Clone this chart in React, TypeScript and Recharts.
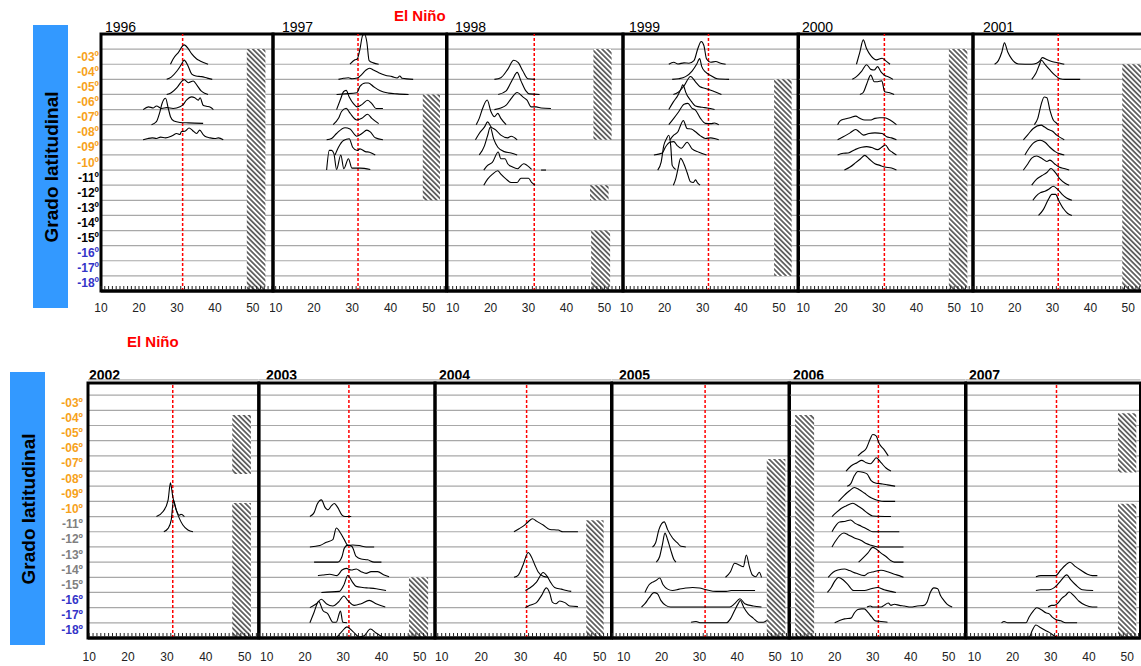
import React from "react";
import {
  LineChart,
  Line,
  XAxis,
  YAxis,
  CartesianGrid,
  ReferenceLine,
  ReferenceArea,
} from "recharts";

type Curve = { lat: number; pts: number[][] };

// talla mínima (línea roja discontinua)
const minSize = 31.5;

// curvas por año: lat = grado latitudinal, pts = [talla, altura relativa]
const c1996: Curve[] = [
  { lat: 3, pts: [[28.3,0],[29,0.35],[30.4,0.79],[31.9,1.28],[33,1.02],[33.9,0.68],[35.2,0.35],[36.1,0.22],[38.2,0]] },
  { lat: 4, pts: [[27.3,0],[28.5,0.15],[30,0.55],[31.2,1.0],[31.9,1.27],[32.8,0.95],[33.9,0.35],[35,0.22],[36.5,0.18],[38,0.08],[39.3,0]] },
  { lat: 5, pts: [[27.3,0],[28.5,0.12],[30,0.45],[31.2,0.85],[31.9,0.98],[33,0.78],[34.3,0.89],[35.3,0.6],[36.3,0.25],[37.3,0.08],[38.2,0]] },
  { lat: 6, pts: [[21.1,0],[22.5,0.18],[23.8,0.11],[24.6,0.24],[26,0.07],[27.3,0.13],[29,0.07],[30.8,0.18],[31.5,0.29],[32.5,0.62],[33.9,0.84],[34.7,0.78],[35.6,0.62],[36.1,0.78],[36.9,0.29],[37.8,0.22],[38.8,0.15],[39.6,0]] },
  { lat: 7, pts: [[23.3,0],[24.6,0.2],[25.4,0.75],[26.1,1.42],[27,1.75],[27.7,1.1],[28.3,0.53],[29.2,0.24],[30.8,0.15],[33,0.12],[36.9,0.09]] },
  { lat: 8, pts: [[21.1,0],[22.4,0.09],[23.5,0.13],[24.6,0.09],[25.7,0.18],[27,0.13],[28.3,0.22],[29,0.31],[29.9,0.42],[30.8,0.35],[31.2,0.55],[32.1,0.57],[33.2,0.78],[34.1,0.62],[35.2,0.42],[36,0.64],[36.9,0.35],[37.8,0.18],[38.7,0.13],[40,0.09],[40.9,0.13],[42.2,0]] },
];

const c1997: Curve[] = [
  { lat: 3, pts: [[29.4,0],[30.7,0.29],[31.3,0.35],[32,1.0],[32.7,1.9],[33.2,1.98],[33.8,1.47],[34.4,0.24],[35.5,0.09],[36.9,0]] },
  { lat: 4, pts: [[26.4,0],[27.7,0.07],[29,0.11],[29.9,0.04],[31.3,0.09],[32.5,0.33],[33.6,0.62],[34.5,0.73],[35.5,0.62],[36.9,0.44],[38.6,0.27],[40.4,0.18],[41.7,0.09],[42.4,0.22],[43,0.07],[45.9,0]] },
  { lat: 5, pts: [[25.9,0],[28.1,0.04],[31.2,0.11],[32,0.53],[33.4,0.76],[34.2,0.76],[35.5,0.53],[37.3,0.24],[39.5,0.09],[41.7,0.04],[44.7,0]] },
  { lat: 6, pts: [[25.9,0],[27,0.73],[27.7,1.18],[28.4,1.27],[29.2,0.84],[30.3,0.4],[31.3,0.18],[32.5,0.33],[34,0.62],[35.1,0.4],[36.2,0.07],[38,0.07]] },
  { lat: 7, pts: [[25,0],[26.4,0.42],[27.2,0.87],[28.4,1.09],[29.4,0.76],[31.2,0.31],[32.5,0.42],[34,0.69],[35.1,0.42],[36.9,0.07]] },
  { lat: 8, pts: [[23.3,0],[24.6,0.09],[25.9,0.42],[28.1,0.8],[29.4,0.71],[31.2,0.24],[32.5,0.42],[33.8,0.64],[34.7,0.53],[36,0.13],[38,0]] },
  { lat: 9, pts: [[25.5,0],[26.4,0.51],[27.7,0.96],[29.2,1.07],[30.1,0.51],[31.3,0.29],[32,0.4],[33.4,0.22],[34.5,0.18],[36,0]] },
  { lat: 10, pts: [[23.3,0],[24,1.3],[24.6,1.3],[25.2,1.09],[25.9,0.04],[27,1.0],[27.8,0.09],[29,0.75],[29.9,0.13],[30.7,0.13],[32,0.13],[34.7,0.04]] },
];

const c1998: Curve[] = [
  { lat: 4, pts: [[21,0],[22.7,0.11],[24.5,0.66],[26.1,1.26],[27.3,1.1],[28.5,0.55],[29.8,0.04],[31.7,0]] },
  { lat: 5, pts: [[22,0],[24.1,0.24],[25.8,1.01],[27,1.46],[28,0.9],[29.3,0.24],[30.2,0.04],[32.9,0]] },
  { lat: 6, pts: [[21,0],[22.7,0.11],[24.1,0.29],[25.4,0.73],[27,1.13],[28.5,0.84],[29.6,0.62],[30.7,0.18],[32,0.18],[33.3,0.11],[35.9,0.07]] },
  { lat: 7, pts: [[16.2,0],[17,0.42],[17.9,1.09],[19.1,1.63],[20.1,0.86],[21,0.53],[21.9,0.75],[22.7,0.42],[24.1,0]] },
  { lat: 8, pts: [[16,0],[17,0.42],[18.4,0.86],[19.2,1.19],[20.1,0.86],[21.4,0.64],[22.7,0.31],[24.5,0.13],[25.4,0.24],[27,0]] },
  { lat: 9, pts: [[17,0],[18.4,0.62],[19.2,1.28],[19.9,1.83],[20.8,1.06],[21.9,0.51],[23.6,0.22],[25.4,0.13],[27,0]] },
  { lat: 10, pts: [[18.2,0],[19.2,0.31],[20.5,0.53],[22,1.19],[22.7,0.75],[23.8,0.75],[24.5,0.42],[25.8,0.2],[27.1,0.09],[28.7,0.42],[29.6,0.31],[30.8,0.04]] },
  { lat: 10, pts: [[33.3,0],[34.6,0]] },
  { lat: 11, pts: [[18.2,0],[19.2,0.4],[20.5,0.73],[21.9,0.95],[22.7,0.73],[24.1,0.4],[25.4,0.18],[27,0.18],[28,0.46],[30,0.46],[30.8,0.18],[31.7,0]] },
];

const c1999: Curve[] = [
  { lat: 3, pts: [[21.1,0],[22.4,0.13],[23.5,0.02],[25.1,0.09],[26.4,0.07],[27.7,0.24],[28.7,1.02],[29.6,1.5],[30.3,1.24],[31,0.35],[32.1,0.13],[33.4,0.18],[34.7,0.07],[36,0]] },
  { lat: 4, pts: [[22,0],[23.7,0.04],[25.5,0.18],[27.2,0.55],[28.4,1.0],[29.2,1.37],[29.7,0.88],[30.7,0.49],[32.1,0.26],[33.8,0.04],[36.9,0]] },
  { lat: 5, pts: [[22.3,0],[23.5,0.13],[25.1,0.57],[26.8,1.19],[28.1,0.84],[29.3,0.51],[30.7,0.4],[32.5,0.24],[34.9,0]] },
  { lat: 6, pts: [[21.1,0],[22.3,0.51],[23.5,0.95],[24.5,1.5],[24.7,1.64],[25.1,1.5],[25.5,1.17],[26.8,0.62],[28.1,0.24],[29.9,0.15],[31.2,0.11],[33.1,0]] },
  { lat: 7, pts: [[21.1,0],[22.4,0.42],[23.7,0.86],[25.1,1.35],[26.1,1.41],[27.2,1.08],[28.1,0.97],[29.4,0.42],[30.7,0.09],[32.1,0.07],[33.1,0.11],[34.2,0]] },
  { lat: 8, pts: [[21.4,0],[22.4,0.31],[23.5,0.53],[24.2,0.97],[24.9,1.28],[25.9,0.75],[27,0.71],[28.1,0.53],[29.4,0.26],[30.7,0.09],[32.1,0.13],[33.1,0.09],[34.2,0]] },
  { lat: 9, pts: [[17.2,0],[19.4,0.13],[20.2,0.51],[21.4,0.84],[22.4,0.88],[23.3,0.62],[24.4,0.44],[25.9,0.84],[27.2,0.4],[29,0.18],[31,0]] },
  { lat: 10, pts: [[18.2,0],[19.1,0.53],[19.8,1.63],[20.5,2.07],[21.1,2.3],[21.6,1.63],[22,0.31],[22.9,0.04]] },
  { lat: 11, pts: [[22.3,0],[22.9,0.4],[23.5,1.06],[24.2,1.77],[25.1,1.39],[25.9,0.84],[26.8,0.22],[27.5,0.18],[28.1,0.35],[28.7,0.13],[29.3,0]] },
];

const c2000: Curve[] = [
  { lat: 3, pts: [[24.1,0],[25,0.8],[25.9,1.61],[26.8,1.02],[27.9,0.57],[29.4,0.29],[30.9,0.4],[31.8,0.24],[33,0]] },
  { lat: 4, pts: [[23,0],[24.1,0.18],[25.5,0.55],[26.8,0.97],[27.9,0.66],[28.8,0.62],[29.7,0.84],[30.6,0.49],[31.6,0.26],[32.5,0.18],[33.8,0]] },
  { lat: 5, pts: [[25,0],[25.9,0.13],[26.8,0.68],[27.9,1.28],[28.8,0.84],[29.7,0.84],[30.8,0.9],[31.6,0.18],[32.7,0.13],[34.1,0]] },
  { lat: 7, pts: [[19.1,0],[19.7,0.24],[21,0.38],[22.4,0.46],[23.9,0.57],[25,0.42],[26.3,0.31],[27.7,0.31],[29,0.42],[30.3,0.46],[31.6,0.46],[33,0.31],[34.7,0]] },
  { lat: 8, pts: [[19.1,0],[20.6,0.2],[22.4,0.46],[23.9,0.68],[25,0.49],[26,0.31],[27.4,0.42],[29,0.46],[30.9,0.42],[32.1,0.2],[33.4,0.13],[34.7,0]] },
  { lat: 9, pts: [[19.1,0],[20.6,0.11],[21.9,0.13],[23.7,0.35],[25.5,0.51],[26.8,0.55],[28.1,0.49],[29.7,0.35],[30.8,0.51],[31.8,0.66],[32.7,0.35],[33.6,0.18],[34.7,0]] },
  { lat: 10, pts: [[20.9,0],[22.4,0.2],[23.9,0.49],[25.2,0.75],[26.3,0.97],[27.4,0.75],[29,0.42],[30.3,0.31],[31.6,0.2],[33.4,0.13],[34.7,0]] },
];

const c2001: Curve[] = [
  { lat: 3, pts: [[14.7,0],[15.7,0.24],[16.6,0.79],[17.3,1.41],[18.2,0.79],[19.2,0.35],[21,0.02],[24.5,0],[25.8,0.07],[26.7,0.24],[27.3,0.44],[28.5,0.31],[29.6,0.2],[30.7,0.13],[32,0.07],[33.1,0]] },
  { lat: 4, pts: [[24.5,0],[25.6,0.4],[26.4,0.88],[27.1,1.26],[28,0.99],[29.3,0.62],[30.7,0.26],[32,0.04],[33.3,0],[37.3,0]] },
  { lat: 7, pts: [[25.2,0],[26.1,0.42],[27,1.35],[27.8,1.83],[28.5,1.79],[29.3,0.97],[30.2,0.31],[31.1,0.09],[31.4,0]] },
  { lat: 8, pts: [[22.3,0],[23.5,0.35],[24.9,0.75],[27,0.97],[27.8,0.86],[28.9,0.68],[30,0.57],[31.1,0.31],[32.2,0.13],[33.1,0]] },
  { lat: 9, pts: [[22.7,0],[23.8,0.44],[25.2,0.84],[26.7,0.97],[28,0.84],[29.3,0.51],[30.7,0.22],[32,0.07],[33.1,0]] },
  { lat: 10, pts: [[22.3,0],[23.5,0.42],[24.5,0.79],[25.8,0.93],[27.3,0.75],[28.5,0.57],[29.3,0.66],[30.5,0.42],[31.7,0.2],[33.3,0.09],[34.4,0]] },
  { lat: 11, pts: [[24.5,0],[25.8,0.4],[27.1,0.62],[28.5,0.84],[29.6,1.1],[30.7,0.84],[32,0.4],[33.3,0.13],[34.4,0]] },
  { lat: 12, pts: [[24.8,0],[25.6,0.26],[26.7,0.49],[28,0.6],[29.1,0.75],[30.2,0.93],[31.4,0.71],[32.6,0.38],[33.7,0.15],[35.1,0]] },
  { lat: 13, pts: [[26.3,0],[27.6,0.4],[28.9,1.06],[29.8,1.39],[30.8,1.39],[31.7,0.95],[32.9,0.44],[34,0.13],[35.1,0]] },
];

const c2002: Curve[] = [
  { lat: 10, pts: [[27.3,0],[29,0.33],[30.3,1.09],[30.9,2.23],[31.5,1.31],[32.4,0.44],[33.2,0.09],[33.6,0.15],[34.5,0]] },
  { lat: 11, pts: [[29.2,0],[30.3,0.22],[31.1,0.77],[31.7,2.08],[32.4,1.42],[33.2,0.88],[34.1,0.44],[35.4,0.11],[36.7,0]] },
];

const c2003: Curve[] = [
  { lat: 10, pts: [[21.3,0],[22.4,0.26],[23.2,0.81],[24.3,1.1],[25.3,0.59],[26,0.44],[26.9,0.7],[27.7,0.86],[28.6,0.59],[29.7,0.09],[30.5,0],[32.1,0]] },
  { lat: 12, pts: [[21.3,0],[23.9,0.09],[25.6,0.31],[27.3,0.48],[28.2,1.25],[29.3,0.92],[30.3,0.48],[31.3,0.09],[32.5,0.13],[34.2,0.09],[36,0],[38.1,0]] },
  { lat: 13, pts: [[22.4,0],[28.6,0],[29.7,0.37],[30.3,0.92],[31.2,1.12],[32.3,1.03],[33.4,0.37],[34.7,0.2],[36.4,0.15],[38.1,0],[40,0]] },
  { lat: 14, pts: [[23.4,0.11],[24.7,0.15],[26.5,0.2],[28.4,0.11],[29.7,0.48],[30.8,0.59],[32.1,0.48],[33.4,0.55],[34.7,0.37],[36,0.26],[37.3,0.37],[39,0.37],[40.7,0.15],[42,0.04]] },
  { lat: 15, pts: [[24.3,0],[29,0.07],[30.2,0.5],[31.2,1.12],[32.3,0.73],[33.4,0.4],[35.1,0.33],[36.8,0.29],[38.6,0.24],[41.2,0.13]] },
  { lat: 16, pts: [[21.3,0],[23,0.26],[24.3,0.55],[25.6,0.26],[27.3,0.11],[28.8,0.37],[30.2,0.77],[31.2,0.48],[32.9,0.15],[34.7,0.26],[36.8,0.48],[38.6,0.26],[41,0.04]] },
  { lat: 17, pts: [[21.3,0],[22.4,0.7],[23.6,1.41],[24.7,0.81],[26,0.59],[27.3,0.04],[28.2,0.04],[29.3,0.77],[29.9,0.04],[31,0]] },
  { lat: 18, pts: [[28.2,0],[29.7,0.44],[31,0.73],[32.5,0.44],[34.2,0.07],[35.5,0.15],[37.1,0.59],[38.6,0.33],[40.3,0.07]] },
];

const c2004: Curve[] = [
  { lat: 11, pts: [[28.3,0],[29.6,0.2],[31,0.44],[31.9,0.66],[33,0.86],[34,0.7],[35.7,0.44],[37.4,0.15],[39.5,0.11],[40.7,0],[44.5,0]] },
  { lat: 14, pts: [[28.3,0],[29.4,0.15],[30.6,0.81],[31.9,1.63],[32.7,1.36],[33.6,0.81],[34.4,0.37],[35.7,0.07],[37,0]] },
  { lat: 15, pts: [[31.2,0.13],[32.3,0.29],[34,0.68],[35.7,1.32],[36.7,1.06],[37.5,0.7],[38.6,0.33],[40.3,0.22],[41.6,0.13],[42.8,0.07]] },
  { lat: 16, pts: [[31.2,0],[32.3,0.15],[34,0.33],[35.3,0.81],[36.5,1.3],[37.4,0.92],[38,0.37],[38.9,0.26],[39.9,0.44],[41.2,0.33],[42.4,0.11],[44.5,0.07]] },
];

const c2005: Curve[] = [
  { lat: 12, pts: [[17.6,0],[18.4,0.26],[19.3,1.14],[20.7,1.65],[21.6,1.14],[22.9,0.59],[24.2,0.26],[25.1,0.04],[26.4,0]] },
  { lat: 13, pts: [[18.6,0],[19.5,0.37],[20.2,1.14],[20.9,1.91],[21.6,1.47],[22.4,0.81],[23.3,0.15],[23.8,0]] },
  { lat: 14, pts: [[36.9,0],[38.2,0.37],[39.3,0.92],[40.5,0.81],[41.6,0.7],[42.4,1.47],[43.2,0.7],[44,0.15],[44.9,0.04],[45.8,0.33],[46.4,0]] },
  { lat: 15, pts: [[15.6,0],[16.7,0.51],[17.6,0.68],[18.4,0.77],[19.5,0.95],[20.4,0.51],[21.6,0.22],[22.9,0.13],[24.7,0.22],[26.4,0.29],[28.2,0.33],[30,0.29],[31.8,0.18],[34.4,0.07],[37.1,0.07],[38.4,0.13],[44.7,0.13]] },
  { lat: 16, pts: [[14.7,0.04],[15.6,0.26],[16.7,0.64],[18,0.99],[18.9,0.92],[19.8,0.48],[21.1,0.15],[22.4,0.04],[38,0.04],[39.3,0.26],[40.7,0.59],[42,0.26],[44.2,0.11],[46.4,0.04]] },
  { lat: 17, pts: [[27.8,0.04],[29.1,0.09],[30.4,0],[37.1,0],[38.2,0.26],[39.3,0.81],[40.2,1.25],[40.8,1.47],[41.7,1.03],[42.9,0.59],[44.2,0.31],[45.6,0.04],[46.9,0.04],[47.8,0.15]] },
];

const c2006: Curve[] = [
  { lat: 6, pts: [[26.1,0],[27.1,0.22],[28.3,0.48],[29.4,1.14],[30,1.41],[30.9,1.32],[31.7,0.81],[32.9,0.44],[34.1,0]] },
  { lat: 7, pts: [[23,0],[24.3,0.33],[25.9,0.55],[27.1,0.7],[28.3,0.55],[29.4,0.48],[30.3,0.7],[30.9,0.88],[32.2,0.55],[33.5,0.2],[34.8,0]] },
  { lat: 8, pts: [[23.3,0],[24.2,0.15],[25.2,0.7],[26.1,0.97],[27.4,0.92],[28.5,0.81],[29.6,0.37],[30.9,0.2],[32.6,0.15],[33.9,0.09],[35.9,0]] },
  { lat: 9, pts: [[21,0],[22.4,0.37],[23.9,0.7],[25.2,0.92],[26.5,0.77],[27.8,0.55],[29.1,0.31],[30.3,0.15],[31.7,0.04],[33,0],[35.9,0]] },
  { lat: 10, pts: [[19.3,0],[20.4,0.26],[21.7,0.53],[23,0.7],[24.8,0.88],[26.1,0.7],[27.4,0.48],[28.7,0.22],[30,0.04],[34.8,0]] },
  { lat: 11, pts: [[19.3,0],[20.2,0.37],[21.3,0.64],[22.6,0.68],[24.2,0.77],[25.4,0.55],[27,0.37],[28.7,0.15],[30,0],[37,0]] },
  { lat: 12, pts: [[19.3,0],[20.2,0.37],[21.3,0.75],[22.4,0.92],[23.5,0.81],[25.2,0.59],[27,0.42],[28.3,0.22],[29.6,0.11],[31.3,0],[38.1,0]] },
  { lat: 13, pts: [[26.3,0],[27.4,0.26],[28.7,0.59],[30,0.97],[30.9,0.86],[32.2,0.59],[33.5,0.37],[34.8,0.09],[35.7,0],[38.1,0]] },
  { lat: 14, pts: [[18.3,0],[19.6,0.33],[20.9,0.48],[22.6,0.55],[23.9,0.44],[25.7,0.26],[27.8,0.11],[28.7,0.26],[30.3,0.37],[32.2,0.46],[33.9,0.37],[35.7,0.2],[37,0.11],[38.1,0]] },
  { lat: 15, pts: [[18.1,0],[19.1,0.33],[20,0.73],[21,0.99],[22.2,0.84],[23.5,0.51],[25,0.13],[27.8,0.13],[29.6,0.24],[31.3,0.33],[33,0.18],[34.8,0.07],[36.1,0]] },
  { lat: 16, pts: [[28.5,0.04],[29.4,0.11],[30,0.04],[32.2,0.04],[33,0.15],[34.1,0.31],[34.8,0.15],[35.7,0.22],[37,0.15],[38.3,0.11],[40,0.04],[41.7,0.11],[43.5,0.15],[44.3,0.37],[45.2,1.03],[46.1,1.3],[47.1,1.25],[47.8,0.81],[48.7,0.48],[49.6,0.22],[50.9,0.04]] },
  { lat: 17, pts: [[20,0],[21.3,0.15],[22.6,0.26],[24.3,0.31],[25.2,0.66],[26.1,0.88],[27.1,0.92],[27.8,0.92],[28.7,0.7],[29.8,0.37],[30.7,0.13],[32.2,0.09],[33.9,0.04]] },
];

const c2007: Curve[] = [
  { lat: 14, pts: [[26.1,0.04],[27.4,0.11],[31.3,0.11],[32.6,0.48],[33.9,0.81],[35,0.99],[36.5,0.7],[37.8,0.48],[39.6,0.2],[40.9,0.11],[42.2,0.11]] },
  { lat: 15, pts: [[26.1,0.13],[27.4,0.18],[29.6,0.18],[31.3,0.4],[32.6,0.77],[34.2,1.16],[35.2,0.84],[36.5,0.51],[38.3,0.18],[41.1,0.13]] },
  { lat: 16, pts: [[29.3,0.04],[30.2,0.15],[30.9,0.15],[31.7,0.26],[33,0.64],[33.9,0.81],[34.8,1.03],[36.1,0.77],[37.4,0.42],[39.1,0.15],[40.9,0.04],[42.2,0.04]] },
  { lat: 17, pts: [[17.1,0],[17.8,0.09],[18.7,0],[23.5,0],[24.3,0.37],[25.5,0.81],[26.3,0.99],[27.4,0.88],[28.7,0.66],[29.6,0.59],[30.4,0.37],[31.3,0.22],[32.6,0.13],[33.9,0],[36.9,0]] },
  { lat: 18, pts: [[20.9,0.04],[24.3,0.04],[25.2,0.53],[26.1,0.86],[27.2,0.7],[28.4,0.53],[29.6,0.37],[30.9,0.15],[31.9,0]] },
];

// zonas rayadas: [talla desde, talla hasta, y desde, y hasta]
const h1996 = [[48.4, 53.3, 0, 16]];
const h1997 = [[48.4, 52.9, 6, 13]];
const h1998 = [[47.1, 51.9, 10, 16], [46.2, 51.1, 6, 7], [46.5, 51.5, 0, 4]];
const h1999 = [[48.7, 53.3, 1, 14]];
const h2000 = [[48.6, 53.5, 0, 16]];
const h2001 = [[48.4, 55.2, 0, 15]];
const h2002 = [[46.8, 51.6, 10.8, 14.7], [46.8, 51.6, 0, 8.9]];
const h2003 = [[47.2, 52.2, 0, 4]];
const h2004 = [[46.6, 51, 0, 7.75]];
const h2005 = [[47.8, 52.7, 0, 11.8]];
const h2006 = [[9.6, 14.6, 0, 14.7]];
const h2007 = [[47.6, 52.4, 10.9, 14.8], [47.6, 52.4, 0, 8.85]];

const topPanels = [
  { year: "1996", curves: c1996, hatch: h1996, left: 101, right: 273, x0: 10, x1: 55.3, titleX: 105 },
  { year: "1997", curves: c1997, hatch: h1997, left: 273, right: 446.5, x0: 9.3, x1: 54.6, titleX: 282 },
  { year: "1998", curves: c1998, hatch: h1998, left: 446.5, right: 622.5, x0: 8.5, x1: 54.9, titleX: 455 },
  { year: "1999", curves: c1999, hatch: h1999, left: 622.5, right: 798, x0: 9.1, x1: 55.1, titleX: 629 },
  { year: "2000", curves: c2000, hatch: h2000, left: 798, right: 973, x0: 8.6, x1: 55, titleX: 802 },
  { year: "2001", curves: c2001, hatch: h2001, left: 973, right: 1148, x0: 9.0, x1: 55.2, titleX: 983 },
];

const bottomPanels = [
  { year: "2002", curves: c2002, hatch: h2002, left: 88.3, right: 259, x0: 9.7, x1: 53.6, titleX: 89 },
  { year: "2003", curves: c2003, hatch: h2003, left: 259, right: 435, x0: 8, x1: 54, titleX: 266 },
  { year: "2004", curves: c2004, hatch: h2004, left: 435, right: 611.5, x0: 8.3, x1: 53, titleX: 439 },
  { year: "2005", curves: c2005, hatch: h2005, left: 611.5, right: 789, x0: 6.9, x1: 53.8, titleX: 619 },
  { year: "2006", curves: c2006, hatch: h2006, left: 789, right: 965.5, x0: 8, x1: 54.4, titleX: 793 },
  { year: "2007", curves: c2007, hatch: h2007, left: 965.5, right: 1140, x0: 7.8, x1: 53.5, titleX: 969 },
];

const topRow = { top: 34, bottom: 291, yTop: 17, pad: 3, labelDy: 21, labelGap: 2, mid: "#000000", topLine: false };
const bottomRow = { top: 383.3, bottom: 638.3, yTop: 16.8, pad: 5, labelDy: 23, labelGap: 5, mid: "#808080", topLine: true };

const yTicks = Array.from({ length: 17 }, (_, k) => k);

function latColor(lat: number, mid: string) {
  if (lat <= 10) return "#F7A21B";
  if (lat <= 15) return mid;
  return "#3434C8";
}

function makeXTick(labelDy: number) {
  return (props: any) => {
    const { x, y, payload } = props;
    const v = payload.value;
    return (
      <g>
        <line x1={x} x2={x} y1={y - 1.5} y2={y - 5} stroke="#222" strokeWidth={1} />
        {v % 10 === 0 ? (
          <text x={x} y={y + labelDy} textAnchor="middle" fontSize={12} fill="#222">
            {v}
          </text>
        ) : null}
      </g>
    );
  };
}

function makeYTick(band: number, gap: number, mid: string, show: boolean) {
  return (props: any) => {
    const { x, y, payload } = props;
    const k = payload.value;
    if (!show || k > 15) return <g />;
    const lat = 18 - k;
    return (
      <text x={x - gap} y={y - band / 2 + 4} textAnchor="end" fontSize={12} fontWeight="bold" fill={latColor(lat, mid)}>
        {`-${String(lat).padStart(2, "0")}º`}
      </text>
    );
  };
}

function Panel({ p, row, first }: { p: any; row: any; first: boolean }) {
  const yw = first ? 44 : 0;
  const plotW = p.right - p.left;
  const plotH = row.bottom - row.top;
  const band = plotH / row.yTop;
  const xTicks: number[] = [];
  for (let v = Math.ceil(p.x0); v <= Math.floor(p.x1); v++) xTicks.push(v);
  const pid = `hatch${p.year}`;
  return (
    <div style={{ position: "absolute", left: p.left - yw - 3, top: row.top - row.pad }}>
      <LineChart
        width={plotW + yw + 6}
        height={plotH + row.pad + 34}
        margin={{ top: row.pad, right: 3, bottom: 0, left: 3 }}
      >
        <defs>
          <pattern id={pid} width={3.6} height={3.6} patternUnits="userSpaceOnUse" patternTransform="rotate(-45)">
            <rect width={3.6} height={3.6} fill="#fff" />
            <line x1={1.8} y1={0} x2={1.8} y2={3.6} stroke="#333" strokeWidth={1.4} />
          </pattern>
        </defs>
        <CartesianGrid vertical={false} stroke="#a8a8a8" strokeWidth={1.2} />
        <XAxis
          type="number"
          dataKey="x"
          domain={[p.x0, p.x1]}
          allowDataOverflow
          ticks={xTicks}
          interval={0}
          tickLine={false}
          tickSize={0}
          tickMargin={0}
          axisLine={{ stroke: "#000", strokeWidth: 3 }}
          height={34}
          tick={makeXTick(row.labelDy)}
        />
        <YAxis
          type="number"
          domain={[0, row.yTop]}
          allowDataOverflow
          ticks={yTicks}
          interval={0}
          width={yw}
          tickLine={false}
          axisLine={false}
          tickSize={0}
          tickMargin={0}
          tick={makeYTick(band, row.labelGap, row.mid, first)}
        />
        {row.topLine ? <ReferenceLine y={17} stroke="#b5b5b5" strokeWidth={1.2} ifOverflow="visible" /> : null}
        {p.hatch.map((h: number[], i: number) => (
          <ReferenceArea key={`h${i}`} x1={h[0]} x2={h[1]} y1={h[2]} y2={h[3]} fill={`url(#${pid})`} fillOpacity={1} stroke="none" />
        ))}
        <ReferenceLine x={minSize} stroke="#ff0000" strokeDasharray="3 2" strokeWidth={1.5} />
        {p.curves.map((c: Curve, i: number) => (
          <Line
            key={`c${i}`}
            data={c.pts.map(([x, h]) => ({ x, y: 18 - c.lat + h }))}
            dataKey="y"
            type="monotone"
            stroke="#000"
            strokeWidth={1.1}
            dot={false}
            activeDot={false}
            isAnimationActive={false}
          />
        ))}
        <ReferenceArea x1={p.x0} x2={p.x1} y1={0} y2={row.yTop} fill="none" stroke="#000" strokeWidth={3} />
      </LineChart>
    </div>
  );
}

export default function App() {
  return (
    <div
      style={{
        position: "absolute",
        left: 0,
        top: 0,
        width: 1141,
        height: 666,
        overflow: "hidden",
        background: "#fff",
        fontFamily: "'Liberation Sans', Arial, sans-serif",
      }}
    >
      <svg width={1141} height={666} style={{ position: "absolute", left: 0, top: 0 }}>
        <rect x={33} y={25} width={35} height={283} fill="#3399FF" />
        <text transform="translate(58,167) rotate(-90)" textAnchor="middle" fontSize={19} fontWeight="bold" fill="#000">
          Grado latitudinal
        </text>
        <rect x={10} y={372} width={35} height={273} fill="#3399FF" />
        <text transform="translate(35,509) rotate(-90)" textAnchor="middle" fontSize={19} fontWeight="bold" fill="#000">
          Grado latitudinal
        </text>
        <text x={394} y={21} fontSize={15} fontWeight="bold" fill="#ff0000">El Niño</text>
        <text x={127} y={347} fontSize={15} fontWeight="bold" fill="#ff0000">El Niño</text>
        {topPanels.map((p) => (
          <text key={p.year} x={p.titleX} y={32} fontSize={14} fill="#000">{p.year}</text>
        ))}
        {bottomPanels.map((p) => (
          <text key={p.year} x={p.titleX} y={380} fontSize={14} fontWeight="bold" fill="#000">{p.year}</text>
        ))}
      </svg>
      {topPanels.map((p, i) => (
        <Panel key={p.year} p={p} row={topRow} first={i === 0} />
      ))}
      {bottomPanels.map((p, i) => (
        <Panel key={p.year} p={p} row={bottomRow} first={i === 0} />
      ))}
    </div>
  );
}
